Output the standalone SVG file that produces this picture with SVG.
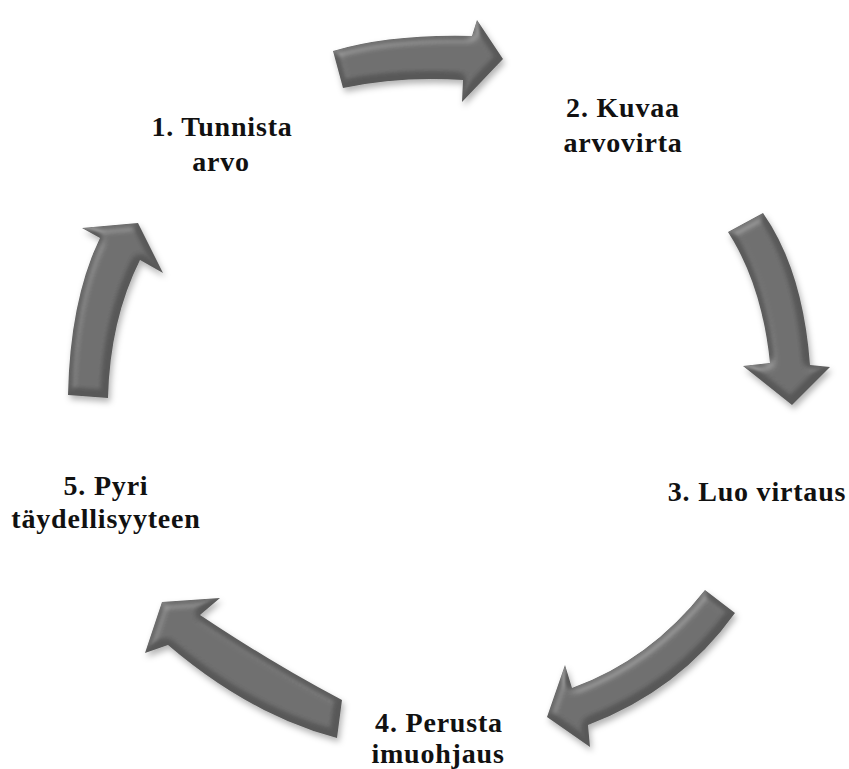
<svg xmlns="http://www.w3.org/2000/svg" width="849" height="769" viewBox="0 0 849 769">
  <style>
    .label { font-family: "Liberation Serif", "Times New Roman", serif; font-weight: bold; font-size: 28px; letter-spacing: 0.8px; fill: #111; text-anchor: middle; }
    .arrow { fill: #585858; filter: url(#bevel); }
  </style>
  <defs>
    <!-- soft bevel highlight plus a drop shadow for the block arrows -->
    <filter id="bevel" x="-30%" y="-30%" width="160%" height="160%">
      <feGaussianBlur in="SourceAlpha" stdDeviation="4" result="blur"/>
      <feSpecularLighting in="blur" surfaceScale="4" specularConstant="0.5" specularExponent="16" lighting-color="#ffffff" result="spec">
        <feDistantLight azimuth="235" elevation="50"/>
      </feSpecularLighting>
      <feComposite in="spec" in2="SourceAlpha" operator="in" result="specIn"/>
      <feComposite in="SourceGraphic" in2="specIn" operator="arithmetic" k1="0" k2="1" k3="0.35" k4="0" result="lit"/>
      <feGaussianBlur in="SourceAlpha" stdDeviation="3" result="sh"/>
      <feOffset in="sh" dx="2" dy="4" result="sho"/>
      <feFlood flood-color="#000" flood-opacity="0.3"/>
      <feComposite in2="sho" operator="in" result="shadow"/>
      <feMerge>
        <feMergeNode in="shadow"/>
        <feMergeNode in="lit"/>
      </feMerge>
    </filter>
  </defs>

  <rect width="849" height="769" fill="#ffffff"/>

  <!-- curved block arrows running clockwise between the steps -->
  <g id="connectors">
    <path id="arrow-1-2" class="arrow" d="M 333,51 Q 390,34 472,36 L 477,20 L 503,59 L 462,102 L 463,80 Q 400,76 343,88 Z"/>
    <path id="arrow-2-3" class="arrow" d="M 728,232 Q 762,285 770,363 L 743,366 L 792,405 L 830,367 L 810,365 Q 803,270 763,213 Z"/>
    <path id="arrow-3-4" class="arrow" d="M 705,590 Q 650,660 572,688 L 565,665 L 547,717 L 590,747 L 588,725 Q 680,690 735,613 Z"/>
    <path id="arrow-4-5" class="arrow" d="M 342,700 Q 275,665 200,615 L 220,598 L 162,602 L 145,653 L 168,645 Q 250,715 337,738 Z"/>
    <path id="arrow-5-1" class="arrow" d="M 68,395 Q 70,300 100,238 L 82,228 L 138,223 L 163,273 L 140,260 Q 110,320 108,398 Z"/>
  </g>

  <g id="step-1">
    <text class="label" x="222" y="136">1. Tunnista</text>
    <text class="label" x="221" y="171">arvo</text>
  </g>
  <g id="step-2">
    <text class="label" x="623" y="117">2. Kuvaa</text>
    <text class="label" x="623" y="152">arvovirta</text>
  </g>
  <g id="step-3">
    <text class="label" x="757" y="501">3. Luo virtaus</text>
  </g>
  <g id="step-4">
    <text class="label" x="439" y="732">4. Perusta</text>
    <text class="label" x="438" y="763">imuohjaus</text>
  </g>
  <g id="step-5">
    <text class="label" x="106" y="495">5. Pyri</text>
    <text class="label" x="106" y="528">täydellisyyteen</text>
  </g>
</svg>
